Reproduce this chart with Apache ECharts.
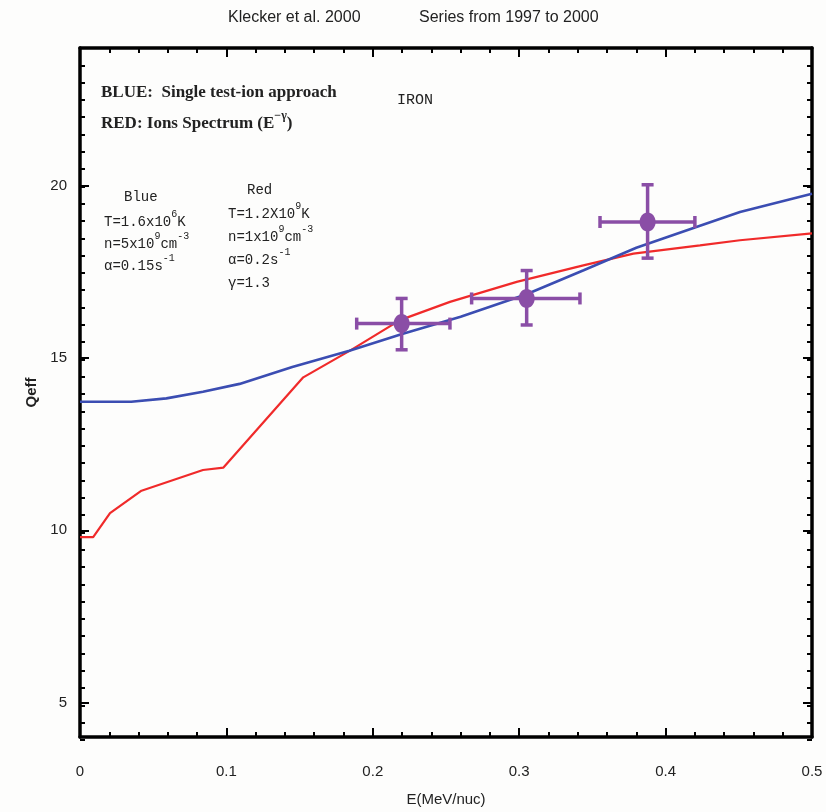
<!DOCTYPE html>
<html>
<head>
<meta charset="utf-8">
<script src="https://cdn.jsdelivr.net/npm/echarts@6/dist/echarts.min.js"></script>
<style>
html,body{margin:0;padding:0;background:#fdfdfc;}
#chart{width:826px;height:812px;}
</style>
</head>
<body>
<div id="chart"></div>
<script>
// ---- data ----
const xTickLabels = [0, 0.1, 0.2, 0.3, 0.4, 0.5];
const yTickLabels = [5, 10, 15, 20];

const blueE = [0, 0.035, 0.059, 0.084, 0.109, 0.145, 0.184, 0.22, 0.26, 0.305, 0.344, 0.38, 0.4235, 0.4508, 0.5];
const blueQ = [13.73, 13.73, 13.83, 14.02, 14.25, 14.74, 15.21, 15.7, 16.2, 16.85, 17.55, 18.2, 18.84, 19.24, 19.77];

const redE = [0, 0.009, 0.0205, 0.042, 0.084, 0.098, 0.1525, 0.185, 0.2186, 0.2527, 0.2983, 0.3438, 0.378, 0.4235, 0.4508, 0.5];
const redQ = [9.8, 9.8, 10.5, 11.15, 11.75, 11.82, 14.44, 15.23, 16.1, 16.63, 17.21, 17.69, 18.03, 18.27, 18.42, 18.62];

const obsE = [0.2197, 0.3051, 0.3877];
const obsQ = [16.0, 16.73, 18.95];
const obsELow = [0.189, 0.2675, 0.3552];
const obsEHigh = [0.2527, 0.3415, 0.420];
const obsQLow = [15.24, 15.96, 17.9];
const obsQHigh = [16.73, 17.54, 20.03];

// ---- styles ----
const BLUE = '#3b4db2';
const RED = '#f02a2a';
const PURPLE = '#8a4ea6';
const tickFont = '"Liberation Sans Narrow","Liberation Sans",Arial,sans-serif';
const serif = '"Liberation Serif","Times New Roman",serif';
const mono = '"Liberation Mono","DejaVu Sans Mono",monospace';

const chart = echarts.init(document.getElementById('chart'));

function zip(a, b) { return a.map((v, i) => [v, b[i]]); }

const obsData = obsE.map((e, i) => [e, obsQ[i], obsELow[i], obsEHigh[i], obsQLow[i], obsQHigh[i]]);

const lineSt = { color: '#000', width: 3.5 };
const tickSt = { color: '#000', width: 2 };

function xAxisCfg(grid, pos, showLabel) {
  return {
    gridIndex: grid, type: 'value', min: 0, max: 0.5, interval: 0.1, position: pos,
    axisLine: { show: grid === 0, onZero: false, lineStyle: lineSt },
    axisTick: { show: grid === 0, inside: true, length: 9, lineStyle: tickSt },
    minorTick: { show: grid === 0, splitNumber: 5, length: 5, lineStyle: tickSt },
    splitLine: { show: false }, minorSplitLine: { show: false },
    axisLabel: showLabel ? {
      show: true, margin: 27, fontSize: 15, color: '#222', fontFamily: tickFont,
      customValues: xTickLabels,
      formatter: v => String(+v.toFixed(1))
    } : { show: false },
    name: showLabel ? 'E(MeV/nuc)' : '',
    nameLocation: 'middle', nameGap: 55,
    nameTextStyle: { fontSize: 15, color: '#222', fontFamily: tickFont }
  };
}
function yMajor(pos, showLabel) {
  return {
    gridIndex: 0, type: 'value', min: 4, max: 24, interval: 1, position: pos,
    axisLine: { show: true, onZero: false, lineStyle: lineSt },
    axisTick: { show: true, inside: true, length: 9, customValues: yTickLabels, lineStyle: tickSt },
    splitLine: { show: false },
    axisLabel: showLabel ? {
      show: true, margin: 13, fontSize: 15, color: '#222', fontFamily: tickFont,
      customValues: yTickLabels
    } : { show: false },
    name: showLabel ? 'Qeff' : '',
    nameLocation: 'middle', nameGap: 40, nameRotate: 90,
    nameTextStyle: { fontSize: 15, color: '#222', fontFamily: tickFont, fontWeight: 'bold' }
  };
}
function yMinor(pos) {
  return {
    gridIndex: 1, type: 'value', min: 4, max: 24, interval: 0.5, position: pos,
    axisLine: { show: false, onZero: false },
    axisTick: { show: true, inside: true, length: 5, lineStyle: tickSt },
    splitLine: { show: false }, axisLabel: { show: false }
  };
}

function rtxt(text, x, y, family, size, weight) {
  return {
    type: 'text', x: x, y: y - 3, z: 10,
    style: {
      text: text, align: 'left', verticalAlign: 'middle', fill: '#222',
      font: (weight || 'normal') + ' ' + size + 'px ' + family,
      rich: {
        n: { fontFamily: family, fontSize: size, fontWeight: weight || 'normal', lineHeight: size + 6, fill: '#222', verticalAlign: 'bottom' },
        s: { fontFamily: family, fontSize: Math.round(size * 0.7), fontWeight: weight || 'normal', lineHeight: 10, fill: '#222', verticalAlign: 'top' }
      }
    }
  };
}

const option = {
  backgroundColor: '#fdfdfc',
  animation: false,
  grid: [
    { left: 80, right: 14, top: 48, bottom: 72 },
    { left: 80, right: 14, top: 48, bottom: 72 }
  ],
  xAxis: [xAxisCfg(0, 'bottom', true), xAxisCfg(0, 'top', false), xAxisCfg(1, 'bottom', false)],
  yAxis: [yMajor('left', true), yMajor('right', false), yMinor('left'), yMinor('right')],
  graphic: [
    { type: 'text', x: 228, y: 18, style: { text: 'Klecker et al. 2000', font: '16px ' + tickFont, fill: '#222', verticalAlign: 'middle' } },
    { type: 'text', x: 419, y: 18, style: { text: 'Series from 1997 to 2000', font: '16px ' + tickFont, fill: '#222', verticalAlign: 'middle' } },
    rtxt('{n|BLUE:  Single test-ion approach}', 101, 93, serif, 17, 'bold'),
    rtxt('{n|RED: Ions Spectrum (E}{s|\u2212\u03B3}{n|)}', 101, 124, serif, 17, 'bold'),
    rtxt('{n|IRON}', 397, 100, mono, 15),
    rtxt('{n|Blue}', 124, 197, mono, 14),
    rtxt('{n|T=1.6x10}{s|6}{n|K}', 104, 222, mono, 14),
    rtxt('{n|n=5x10}{s|9}{n|cm}{s|-3}', 104, 244, mono, 14),
    rtxt('{n|\u03B1=0.15s}{s|-1}', 104, 266, mono, 14),
    rtxt('{n|Red}', 247, 190, mono, 14),
    rtxt('{n|T=1.2X10}{s|9}{n|K}', 228, 214, mono, 14),
    rtxt('{n|n=1x10}{s|9}{n|cm}{s|-3}', 228, 237, mono, 14),
    rtxt('{n|\u03B1=0.2s}{s|-1}', 228, 260, mono, 14),
    rtxt('{n|\u03B3=1.3}', 228, 283, mono, 14)
  ],
  series: [
    {
      type: 'line', xAxisIndex: 0, yAxisIndex: 0, data: zip(redE, redQ), showSymbol: false, symbol: 'none',
      lineStyle: { color: RED, width: 2.2 }, z: 3
    },
    {
      type: 'line', xAxisIndex: 0, yAxisIndex: 0, data: zip(blueE, blueQ), showSymbol: false, symbol: 'none',
      lineStyle: { color: BLUE, width: 2.6 }, z: 4
    },
    {
      type: 'custom', xAxisIndex: 0, yAxisIndex: 0, data: obsData, z: 5,
      renderItem: function (params, api) {
        const c = api.coord([api.value(0), api.value(1)]);
        const xl = api.coord([api.value(2), api.value(1)]);
        const xh = api.coord([api.value(3), api.value(1)]);
        const yl = api.coord([api.value(0), api.value(4)]);
        const yh = api.coord([api.value(0), api.value(5)]);
        const cap = 6;
        const st = { stroke: PURPLE, lineWidth: 3.5 };
        return {
          type: 'group',
          children: [
            { type: 'line', shape: { x1: xl[0], y1: c[1], x2: xh[0], y2: c[1] }, style: st },
            { type: 'line', shape: { x1: c[0], y1: yl[1], x2: c[0], y2: yh[1] }, style: st },
            { type: 'line', shape: { x1: xl[0], y1: c[1] - cap, x2: xl[0], y2: c[1] + cap }, style: st },
            { type: 'line', shape: { x1: xh[0], y1: c[1] - cap, x2: xh[0], y2: c[1] + cap }, style: st },
            { type: 'line', shape: { x1: c[0] - cap, y1: yl[1], x2: c[0] + cap, y2: yl[1] }, style: st },
            { type: 'line', shape: { x1: c[0] - cap, y1: yh[1], x2: c[0] + cap, y2: yh[1] }, style: st },
            { type: 'ellipse', shape: { cx: c[0], cy: c[1], rx: 8, ry: 9.5 }, style: { fill: PURPLE } }
          ]
        };
      }
    },
    // empty series so that the tick-only overlay grid is laid out
    { type: 'line', xAxisIndex: 2, yAxisIndex: 2, data: [], silent: true }
  ]
};
chart.setOption(option);
</script>
</body>
</html>
